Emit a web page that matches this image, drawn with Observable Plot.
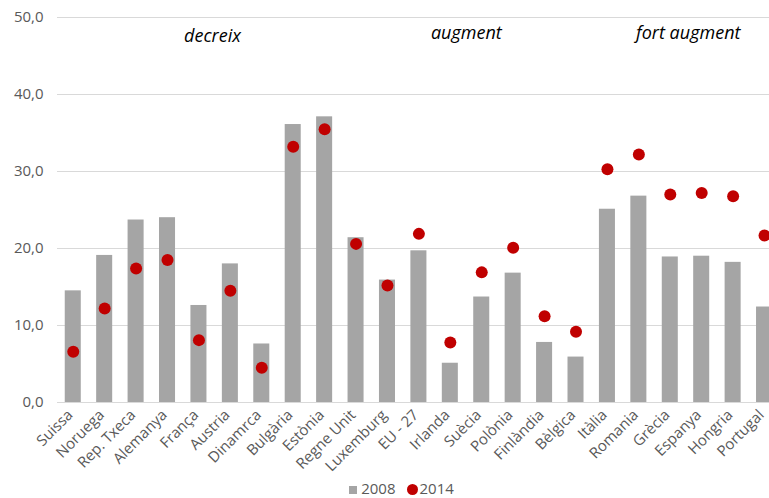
<!DOCTYPE html>
<html>
<head>
<meta charset="utf-8">
<script src="https://cdn.jsdelivr.net/npm/d3@7"></script>
<script src="https://cdn.jsdelivr.net/npm/@observablehq/plot@0.6"></script>
<style>
  html, body { margin: 0; padding: 0; background: #fff; }
  #chart { width: 769px; height: 498px; position: relative; overflow: hidden; font-family: "Open Sans", sans-serif; }
  #legend { position: absolute; left: 0; top: 479px; width: 769px; text-align: center; font-size: 15px; color: #595959; line-height: 18px; padding-left: 34px; box-sizing: border-box; }
  #legend span.sq { display: inline-block; width: 8px; height: 8px; background: #A5A5A5; margin-right: 4px; vertical-align: 0px; }
  #legend span.ci { display: inline-block; width: 11px; height: 11px; border-radius: 50%; background: #C00000; margin-right: 2px; margin-left: 11px; vertical-align: -1px; }
</style>
</head>
<body>
<div id="chart"></div>
<script>
const countries = ["Suissa","Noruega","Rep. Txeca","Alemanya","França","Austria","Dinamrca","Bulgària","Estònia","Regne Unit","Luxemburg","EU - 27","Irlanda","Suècia","Polònia","Finlàndia","Bèlgica","Itàlia","Romania","Grècia","Espanya","Hongria","Portugal"];
const values2008 = [14.5,19.1,23.7,24.0,12.6,18.0,7.6,36.1,37.1,21.4,15.9,19.7,5.1,13.7,16.8,7.8,5.9,25.1,26.8,18.9,19.0,18.2,12.4];
const values2014 = [6.6,12.2,17.4,18.5,8.1,14.5,4.5,33.2,35.5,20.6,15.2,21.9,7.8,16.9,20.1,11.2,9.2,30.3,32.2,27.0,27.2,26.8,21.7];
const groupLabels = ["decreix","augment","fort augment"];
const groupAnchors = ["França","Irlanda","Grècia"];
const yTicks = [0,10,20,30,40,50];

const data = countries.map((c, i) => ({country: c, v2008: values2008[i], v2014: values2014[i]}));
const groups = groupLabels.map((g, i) => ({label: g, anchor: groupAnchors[i]}));
const fmt = d => d.toFixed(1).replace(".", ",");

const W = 769, H = 478;
const plot = Plot.plot({
  width: W,
  height: H,
  marginTop: 17,
  marginBottom: 76,
  marginLeft: 57,
  marginRight: 0,
  style: {fontFamily: "Open Sans, sans-serif", fontSize: "14px", color: "#595959", background: "#fff", overflow: "hidden"},
  x: {domain: countries, range: [57.2, 779.6], paddingInner: 0.49, paddingOuter: 0.24, round: false, label: null},
  y: {domain: [0, 50], label: null},
  marks: [
    Plot.ruleY(yTicks.filter(d => d > 0), {stroke: "#D9D9D9", strokeWidth: 1}),
    Plot.barY(data, {x: "country", y: "v2008", fill: "#A5A5A5"}),
    Plot.ruleY([0], {stroke: "#D9D9D9", strokeWidth: 1}),
    Plot.dot(data, {x: "country", y: "v2014", r: 6, fill: "#C00000", stroke: "none"}),
    Plot.axisY({ticks: yTicks, tickFormat: fmt, tickSize: 0, tickPadding: 14, fontSize: 15, fill: "#595959", label: null}),
    Plot.axisX({tickSize: 0, tickPadding: 10, tickRotate: -45, fontSize: 15, fill: "#595959", label: null, dx: -3}),
    Plot.text(groups.slice(0, 1), {x: "anchor", y: 47.6, text: "label", fontStyle: "italic", fontSize: 18, fill: "#000", textAnchor: "middle", dx: 13.5}),
    Plot.text(groups.slice(1, 2), {x: "anchor", y: 48, text: "label", fontStyle: "italic", fontSize: 18, fill: "#000", textAnchor: "middle", dx: 16}),
    Plot.text(groups.slice(2), {x: "anchor", y: 48, text: "label", fontStyle: "italic", fontSize: 18, fill: "#000", textAnchor: "middle", dx: 18})
  ]
});
document.getElementById("chart").appendChild(plot);
const lg = document.createElement("div");
lg.id = "legend";
lg.innerHTML = '<span class="sq"></span>2008<span class="ci"></span>2014';
document.getElementById("chart").appendChild(lg);
</script>
</body>
</html>
